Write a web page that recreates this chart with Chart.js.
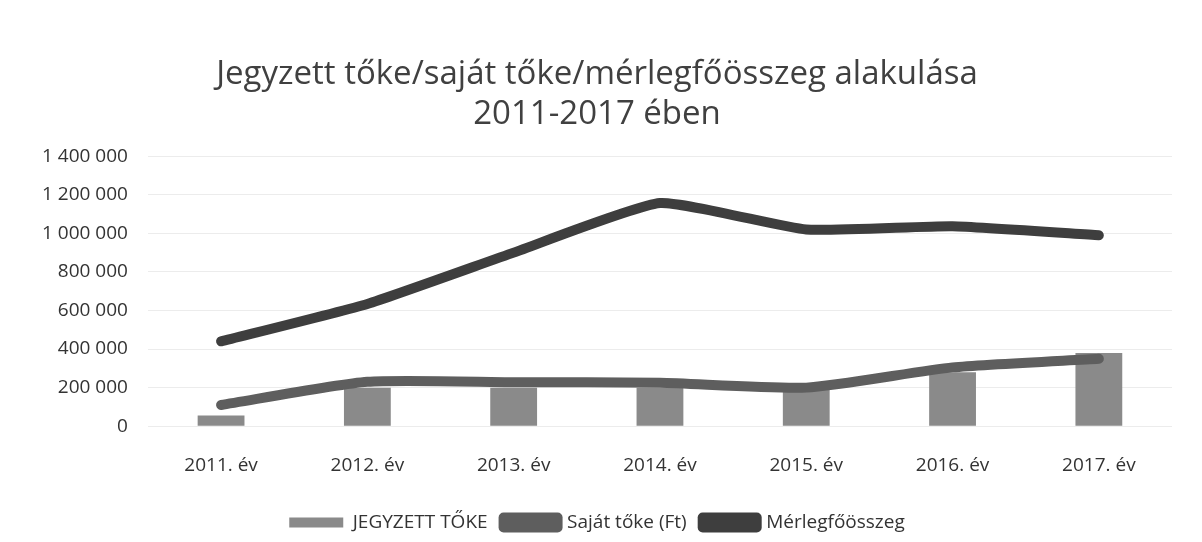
<!DOCTYPE html>
<html>
<head>
<meta charset="utf-8">
<script src="https://cdn.jsdelivr.net/npm/chart.js@4/dist/chart.umd.min.js"></script>
<style>
  html, body { margin: 0; padding: 0; background: #fff; }
  #wrap { width: 1202px; height: 542px; }
</style>
</head>
<body>
<div id="wrap"><canvas id="chart"></canvas></div>
<script>
const labels = ['2011. év', '2012. év', '2013. év', '2014. év', '2015. év', '2016. év', '2017. év'];
const jegyzettToke = [56000, 200000, 200000, 200000, 200000, 280000, 380000];
const sajatToke = [110000, 230000, 228000, 225000, 200000, 305000, 350000];
const merlegfoosszeg = [440000, 634000, 900000, 1157000, 1020000, 1037000, 990000];

const fmt = v => String(v).replace(/\B(?=(\d{3})+(?!\d))/g, ' ');

const ctx = document.getElementById('chart').getContext('2d');
const myChart = new Chart(ctx, {
  type: 'bar',
  data: {
    labels: labels,
    datasets: [{
      label: 'JEGYZETT TŐKE',
      data: jegyzettToke,
      backgroundColor: '#8a8a8a',
      barPercentage: 0.64,
      categoryPercentage: 0.5,
      order: 3
    }, {
      type: 'line',
      label: 'Saját tőke (Ft)',
      data: sajatToke,
      borderColor: '#5e5e5e',
      backgroundColor: '#5e5e5e',
      borderWidth: 10,
      borderCapStyle: 'round',
      borderJoinStyle: 'round',
      tension: 0.2,
      pointRadius: 0,
      order: 2
    }, {
      type: 'line',
      label: 'Mérlegfőösszeg',
      data: merlegfoosszeg,
      borderColor: '#3e3e3e',
      backgroundColor: '#3e3e3e',
      borderWidth: 10,
      borderCapStyle: 'round',
      borderJoinStyle: 'round',
      tension: 0.15,
      pointRadius: 0,
      order: 1
    }]
  },
  options: {
    responsive: true,
    maintainAspectRatio: false,
    animation: false,
    layout: { padding: { left: 22, right: 30, top: 55, bottom: 0 } },
    plugins: {
      title: {
        display: true,
        text: ['Jegyzett tőke/saját tőke/mérlegfőösszeg alakulása', '2011-2017 ében'],
        color: '#404040',
        font: { family: 'Open Sans', size: 33, weight: 'normal' },
        lineHeight: 1.2,
        padding: { top: 0, bottom: 22 }
      },
      legend: {
        position: 'bottom',
        labels: {
          color: '#333',
          font: { family: 'Open Sans', size: 19 },
          boxWidth: 54,
          boxHeight: 10,
          padding: 16,
          sort: (a, b) => a.datasetIndex - b.datasetIndex
        }
      },
      tooltip: { enabled: false }
    },
    scales: {
      x: {
        grid: { display: false },
        border: { display: false },
        ticks: { color: '#333', font: { family: 'Open Sans', size: 19 }, padding: 20 }
      },
      y: {
        min: 0,
        max: 1400000,
        ticks: {
          stepSize: 200000,
          color: '#333',
          font: { family: 'Open Sans', size: 19 },
          padding: 20,
          callback: v => fmt(v)
        },
        grid: { color: '#ececec', drawTicks: false },
        border: { display: false }
      }
    }
  }
});
</script>
</body>
</html>
